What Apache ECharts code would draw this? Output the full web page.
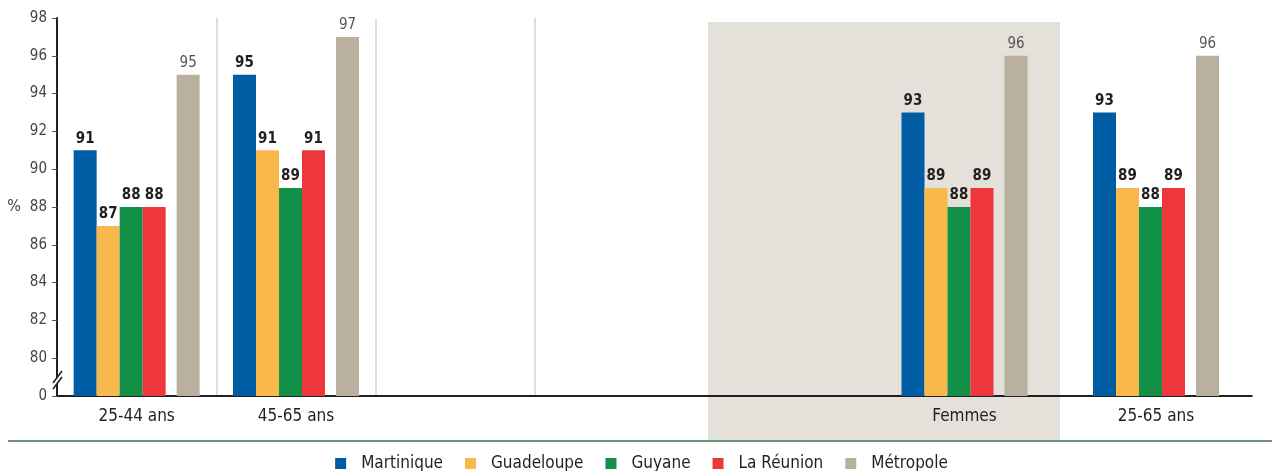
<!DOCTYPE html>
<html>
<head>
<meta charset="utf-8">
<script src="https://cdn.jsdelivr.net/npm/echarts@6/dist/echarts.min.js"></script>
<style>
  html, body { margin: 0; padding: 0; background: #fff; }
  #main { width: 1283px; height: 471px; }
</style>
</head>
<body>
<div id="main"></div>
<script>
const categories = ['25-44 ans', '45-65 ans', 'Femmes', '25-65 ans']
const martinique = [91, 95, 93, 93]
const guadeloupe = [87, 91, 89, 89]
const guyane = [88, 89, 88, 88]
const reunion = [88, 91, 89, 89]
const metropole = [95, 97, 96, 96]
const yTicks = [78, 80, 82, 84, 86, 88, 90, 92, 94, 96, 98]

const font = "'Liberation Sans Narrow', 'DejaVu Sans Condensed', sans-serif"
const dark = '#231f20'

// left block holds the first two groups, right block the last two
const leftCats = categories.slice(0, 2).concat([''])
const rightCats = ['', ''].concat(categories.slice(2))
const left = (arr) => arr.slice(0, 2).concat([null])
const right = (arr) => [null, null].concat(arr.slice(2))

const seriesDefs = [
  { name: 'Martinique', data: martinique, color: '#005ca3', bold: true },
  { name: 'Guadeloupe', data: guadeloupe, color: '#f9b84b', bold: true },
  { name: 'Guyane', data: guyane, color: '#129048', bold: true },
  { name: 'La Réunion', data: reunion, color: '#ee363d', bold: true },
  { name: 'gap', data: null, color: 'transparent' },
  { name: 'Métropole', data: metropole, color: '#bab09f', bold: false },
]

const series = []
;[0, 1].forEach((g) => {
  seriesDefs.forEach((d) => {
    const isGap = d.data === null
    const vals = isGap ? [null, null, null, null] : d.data
    series.push({
      type: 'bar',
      name: d.name,
      xAxisIndex: g,
      yAxisIndex: g,
      data: g === 0 ? left(vals) : right(vals),
      barWidth: isGap ? 11 : 23,
      barGap: '0%',
      itemStyle: { color: d.color },
      label: {
        show: !isGap,
        position: 'top',
        distance: 4,
        fontFamily: font,
        fontSize: 15,
        fontWeight: d.bold ? 'bold' : 'normal',
        color: d.bold ? dark : '#555',
      },
    })
  })
})

const yAxisBase = {
  type: 'value',
  min: 78,
  max: 98,
  interval: 2,
}

const myChart = echarts.init(document.getElementById('main'))
const option = {
  animation: false,
  grid: [
    { left: 57, width: 478, top: 18, bottom: 75 },
    { left: 485.75, width: 766, top: 18, bottom: 75 },
  ],
  xAxis: [
    {
      type: 'category',
      gridIndex: 0,
      data: leftCats,
      axisLine: { lineStyle: { color: dark, width: 2 } },
      axisTick: { show: false },
      axisLabel: { interval: 0, fontFamily: font, fontSize: 17, color: dark, margin: 12 },
      splitLine: { show: true, lineStyle: { color: '#d3d3d3', width: 1.5 } },
    },
    {
      type: 'category',
      gridIndex: 1,
      data: rightCats,
      axisLine: { lineStyle: { color: dark, width: 2 } },
      axisTick: { show: false },
      axisLabel: { interval: 0, fontFamily: font, fontSize: 17, color: dark, margin: 12 },
      splitLine: { show: false },
    },
  ],
  yAxis: [
    Object.assign({}, yAxisBase, {
      gridIndex: 0,
      name: '%',
      nameLocation: 'middle',
      nameRotate: 0,
      nameGap: 36,
      nameTextStyle: { fontFamily: font, fontSize: 16, color: '#444' },
      axisLine: { show: true, lineStyle: { color: dark, width: 2 } },
      axisTick: { show: true, length: 5, lineStyle: { color: '#555' } },
      axisLabel: {
        fontFamily: font,
        fontSize: 15,
        color: '#444',
        margin: 10,
        formatter: (v) => (v === yTicks[0] ? '0' : String(v)),
      },
      splitLine: { show: false },
    }),
    Object.assign({}, yAxisBase, {
      gridIndex: 1,
      show: false,
      splitLine: { show: false },
    }),
  ],
  legend: {
    data: ['Martinique', 'Guadeloupe', 'Guyane', 'La Réunion', 'Métropole'],
    left: 'center',
    top: 450,
    icon: 'rect',
    itemWidth: 11,
    itemHeight: 11,
    itemGap: 22,
    textStyle: { fontFamily: font, fontSize: 17, color: dark, padding: [0, 0, 0, 10] },
  },
  graphic: [
    {
      type: 'rect',
      z: -1,
      shape: { x: 708, y: 22, width: 352, height: 419 },
      style: { fill: '#e4e0da' },
      silent: true,
    },
    {
      type: 'line',
      shape: { x1: 8, y1: 441, x2: 1272, y2: 441 },
      style: { stroke: '#6e9185', lineWidth: 2 },
      silent: true,
    },
    {
      type: 'polygon',
      z: 100,
      shape: { points: [[53, 383], [62, 371], [62, 377], [53, 389]] },
      style: { fill: '#fff' },
      silent: true,
    },
    {
      type: 'line',
      z: 101,
      shape: { x1: 53, y1: 383, x2: 62, y2: 371 },
      style: { stroke: dark, lineWidth: 1.5 },
      silent: true,
    },
    {
      type: 'line',
      z: 101,
      shape: { x1: 53, y1: 389, x2: 62, y2: 377 },
      style: { stroke: dark, lineWidth: 1.5 },
      silent: true,
    },
  ],
  series: series,
}
option && myChart.setOption(option)
</script>
</body>
</html>
